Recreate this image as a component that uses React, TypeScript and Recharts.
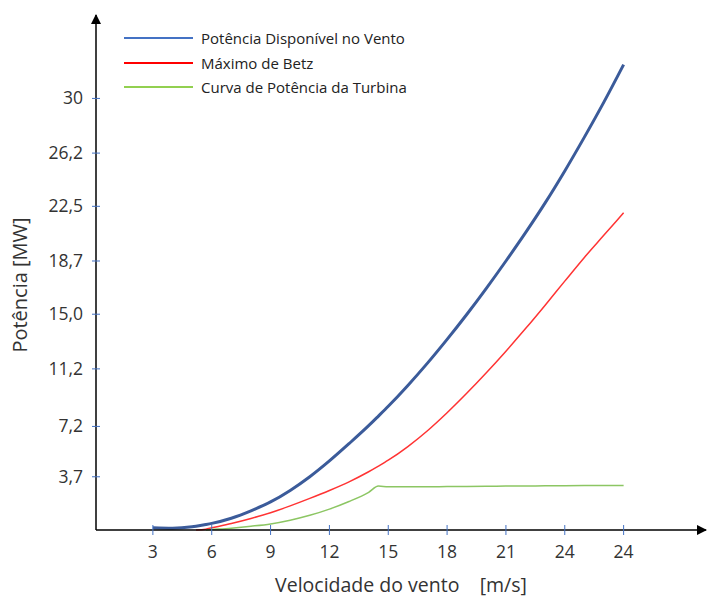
import { LineChart, Line, XAxis, YAxis, Legend } from 'recharts';

const velocidades = [3, 4, 5, 5.2, 5.7, 6, 7, 8, 9, 10, 11, 12, 13, 14, 14.5, 15, 16, 17, 18, 19, 20, 21, 22, 23, 24, 25, 26, 27];
const disponivel = [0.15, 0.12, 0.22, 0.26, 0.38, 0.46, 0.82, 1.33, 1.95, 2.75, 3.7, 4.8, 6.0, 7.25, 7.92, 8.6, 10.05, 11.6, 13.25, 14.98, 16.8, 18.7, 20.67, 22.74, 24.96, 27.31, 29.76, 32.35];
const betz = [null, null, null, 0, 0.06, 0.15, 0.45, 0.8, 1.2, 1.68, 2.2, 2.75, 3.35, 4.05, 4.44, 4.85, 5.8, 6.9, 8.15, 9.5, 10.93, 12.43, 14.0, 15.63, 17.3, 18.95, 20.5, 22.05];
const turbina = [null, null, null, null, 0, 0.03, 0.13, 0.26, 0.42, 0.68, 1.02, 1.45, 1.98, 2.62, 3.05, 3.0, 3.0, 3.0, 3.02, 3.03, 3.04, 3.05, 3.06, 3.07, 3.08, 3.09, 3.1, 3.1];

const xTicks = [3, 6, 9, 12, 15, 18, 21, 24, 27];
const xLabels = ['3', '6', '9', '12', '15', '18', '21', '24', '24'];
const yTicks = [3.7, 7.2, 11.2, 15.0, 18.7, 22.5, 26.2, 30];
const yLabels = ['3,7', '7,2', '11,2', '15,0', '18,7', '22,5', '26,2', '30'];

const series = [
  { key: 'disponivel', name: 'Potência Disponível no Vento', color: '#3b5b9a', legendColor: '#4472c4', width: 3 },
  { key: 'betz', name: 'Máximo de Betz', color: '#ff3333', legendColor: '#ff0000', width: 1.5 },
  { key: 'turbina', name: 'Curva de Potência da Turbina', color: '#8cc663', legendColor: '#92d050', width: 1.5 },
];

const data = velocidades.map((v, i) => ({
  v,
  disponivel: disponivel[i],
  betz: betz[i],
  turbina: turbina[i],
}));

const FONT = '"Open Sans", sans-serif';
const TICK_BLUE = '#4472c4';

function XTick(props: any) {
  const { x, y, index } = props;
  return (
    <g>
      <line x1={x} x2={x} y1={y - 5} y2={y + 5} stroke={TICK_BLUE} strokeWidth={1} />
      <text x={x} y={y + 28} textAnchor="middle" fontSize={17.5} fontFamily={FONT} fill="#333">
        {xLabels[index]}
      </text>
    </g>
  );
}

function YTick(props: any) {
  const { x, y, index } = props;
  return (
    <g>
      <line x1={x - 4} x2={x + 4} y1={y} y2={y} stroke={TICK_BLUE} strokeWidth={1} />
      <text x={x - 13} y={y + 6} textAnchor="end" fontSize={17.5} fontFamily={FONT} fill="#333">
        {yLabels[index]}
      </text>
    </g>
  );
}

function YTitle() {
  return (
    <text transform="translate(27,285) rotate(-90)" textAnchor="middle" fontSize={20} fontFamily={FONT} fill="#333">
      Potência [MW]
    </text>
  );
}

function renderLegend() {
  return (
    <div style={{ fontFamily: FONT, fontSize: 15, color: '#222' }}>
      {series.map((s) => (
        <div key={s.key} style={{ display: 'flex', alignItems: 'center', height: 24.5 }}>
          <span style={{ display: 'inline-block', width: 69, height: 2, background: s.legendColor, marginRight: 8 }} />
          <span>{s.name}</span>
        </div>
      ))}
    </div>
  );
}

export default function App() {
  return (
    <div style={{ position: 'absolute', left: 0, top: 0, width: 707, height: 601, background: '#fff' }}>
      <LineChart width={707} height={601} data={data} margin={{ top: 15, right: 1, left: 0, bottom: 0 }}>
        <defs>
          <marker id="seta" viewBox="0 0 10 10" refX="9" refY="5" markerWidth="7" markerHeight="7" orient="auto-start-reverse">
            <path d="M0,0 L10,5 L0,10 z" fill="#000" />
          </marker>
        </defs>
        <XAxis
          dataKey="v"
          type="number"
          domain={[0.1, 31.2]}
          ticks={xTicks}
          height={71}
          tickSize={0}
          tickMargin={0}
          tickLine={false}
          axisLine={{ stroke: '#000', strokeWidth: 1.5, markerEnd: 'url(#seta)' }}
          tick={<XTick />}
          interval={0}
          label={{ value: 'Velocidade do vento\u00a0\u00a0\u00a0 [m/s]', position: 'insideBottom', offset: 9, style: { fontFamily: FONT, fontSize: 19.5, fill: '#333' } }}
        />
        <YAxis
          type="number"
          domain={[0, 35.8]}
          ticks={yTicks}
          width={96}
          tickSize={0}
          tickMargin={0}
          tickLine={false}
          axisLine={{ stroke: '#000', strokeWidth: 1.5, markerStart: 'url(#seta)' }}
          tick={<YTick />}
          interval={0}
          label={{ content: () => <YTitle /> }}
        />
        <Legend
          content={renderLegend}
          layout="vertical"
          verticalAlign="middle"
          align="center"
          wrapperStyle={{ left: 124, top: 26, width: 340 }}
        />
        {series.map((s) => (
          <Line
            key={s.key}
            dataKey={s.key}
            name={s.name}
            type="monotone"
            stroke={s.color}
            strokeWidth={s.width}
            dot={false}
            activeDot={false}
            connectNulls
            isAnimationActive={false}
          />
        ))}
      </LineChart>
    </div>
  );
}
